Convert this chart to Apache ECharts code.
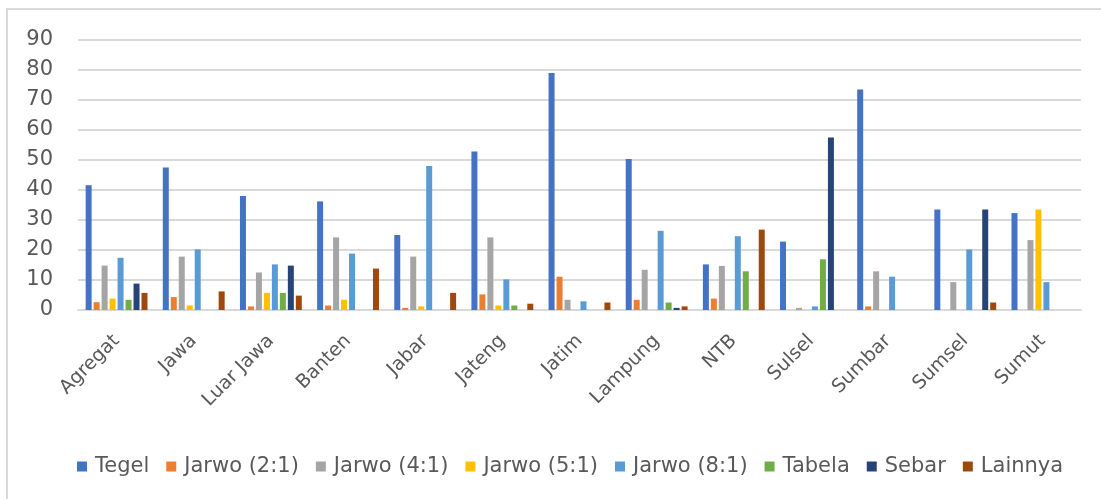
<!DOCTYPE html>
<html>
<head>
<meta charset="utf-8">
<title>Sistem tanam padi</title>
<script src="https://cdn.jsdelivr.net/npm/echarts@6/dist/echarts.min.js"></script>
<style>
  html, body { margin: 0; padding: 0; background: #fff; }
  #chart { width: 1101px; height: 499px; }
</style>
</head>
<body>
<div id="chart"></div>
<script>
// ==============================
// data
// ==============================

const categories = ['Agregat', 'Jawa', 'Luar Jawa', 'Banten', 'Jabar', 'Jateng', 'Jatim',
  'Lampung', 'NTB', 'Sulsel', 'Sumbar', 'Sumsel', 'Sumut'];

const tegel    = [41.6, 47.5, 38.0, 36.2, 25.0, 52.8, 79.0, 50.3, 15.2, 22.8, 73.5, 33.5, 32.3];
const jarwo21  = [2.6, 4.3, 1.2, 1.5, 0.7, 5.2, 11.1, 3.4, 3.8, 0, 1.2, 0, 0];
const jarwo41  = [14.8, 17.8, 12.5, 24.2, 17.8, 24.2, 3.4, 13.4, 14.7, 0.7, 12.9, 9.3, 23.3];
const jarwo51  = [3.8, 1.5, 5.7, 3.4, 1.2, 1.5, 0, 0, 0, 0, 0, 0, 33.5];
const jarwo81  = [17.4, 20.2, 15.2, 18.8, 48.0, 10.2, 2.9, 26.4, 24.6, 1.2, 11.1, 20.2, 9.3];
const tabela   = [3.4, 0, 5.7, 0, 0, 1.5, 0, 2.5, 12.9, 16.9, 0, 0, 0];
const sebar    = [8.8, 0, 14.8, 0, 0, 0, 0, 0.7, 0, 57.5, 0, 33.5, 0];
const lainnya  = [5.7, 6.2, 4.8, 13.8, 5.7, 2.1, 2.5, 1.2, 26.8, 0, 0, 2.5, 0];

const seriesNames = ['Tegel', 'Jarwo (2:1)', 'Jarwo (4:1)', 'Jarwo (5:1)', 'Jarwo (8:1)', 'Tabela', 'Sebar', 'Lainnya'];
const seriesValues = [tegel, jarwo21, jarwo41, jarwo51, jarwo81, tabela, sebar, lainnya];

const yTicks = [0, 10, 20, 30, 40, 50, 60, 70, 80, 90];

// office palette
const barColors = ['#4472C4', '#ED7D31', '#A5A5A5', '#FFC000', '#5B9BD5', '#70AD47', '#264478', '#9E480E'];

// ==============================
// chart
// ==============================

const chart = echarts.init(document.getElementById('chart'));

const series = seriesNames.map((name, i) => ({
  name: name,
  type: 'bar',
  data: seriesValues[i],
  barWidth: 6,
  barGap: '33%',
  itemStyle: { color: barColors[i] }
}));

chart.setOption({
  animation: false,
  color: barColors,
  textStyle: { fontFamily: 'DejaVu Sans' },
  graphic: [{
    type: 'rect',
    shape: { x: 7, y: 9, width: 1200, height: 600 },
    style: { fill: 'none', stroke: '#d9d9d9', lineWidth: 2 },
    silent: true
  }],
  legend: {
    data: seriesNames,
    left: 72,
    top: 451,
    icon: 'rect',
    itemWidth: 10,
    itemHeight: 10,
    itemGap: 17,
    textStyle: { color: '#595959', fontSize: 21, fontFamily: 'DejaVu Sans', padding: [0, 0, 0, 3] }
  },
  grid: { left: 78, right: 20, top: 40, bottom: 189 },
  xAxis: {
    type: 'category',
    data: categories,
    axisLine: { lineStyle: { color: '#d9d9d9', width: 2 } },
    axisTick: { show: false },
    axisLabel: {
      color: '#595959',
      fontSize: 19,
      rotate: 45,
      interval: 0,
      margin: 28
    }
  },
  yAxis: {
    type: 'value',
    min: yTicks[0],
    max: yTicks[yTicks.length - 1],
    interval: 10,
    axisLine: { show: false },
    axisTick: { show: false },
    splitLine: { lineStyle: { color: '#d9d9d9', width: 2 } },
    axisLabel: { color: '#595959', fontSize: 21, margin: 25 }
  },
  series
});
</script>
</body>
</html>
